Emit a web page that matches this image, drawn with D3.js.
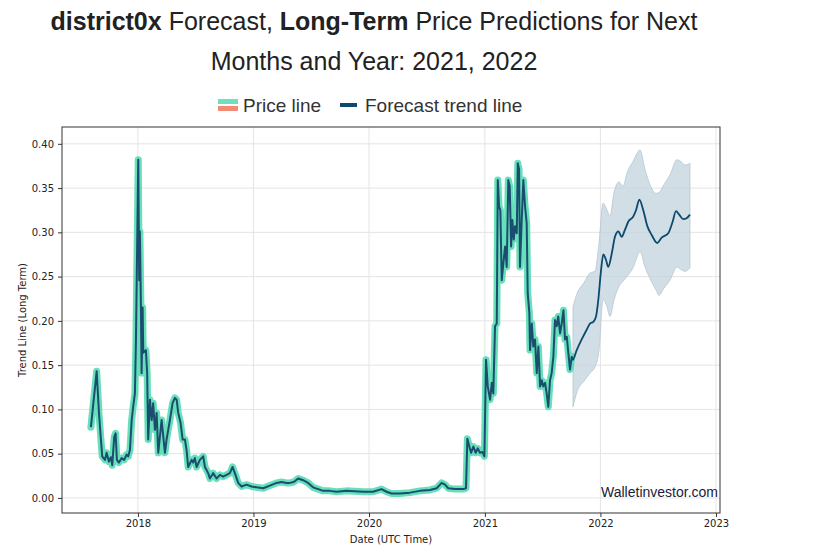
<!DOCTYPE html>
<html>
<head>
<meta charset="utf-8">
<script src="https://cdn.jsdelivr.net/npm/d3@7"></script>
<style>
  html, body { margin: 0; padding: 0; background: #fff; }
  svg { display: block; }
</style>
</head>
<body>
<svg id="chart" width="833" height="556"></svg>
<script>
// ---- Data (dates as fractional years) ----
const priceDates = [2017.593,2017.643,2017.663,2017.680,2017.691,2017.715,2017.729,2017.749,2017.766,2017.778,2017.795,2017.807,2017.818,2017.836,2017.859,2017.881,2017.902,2017.916,2017.931,2017.946,2017.959,2017.974,2017.983,2018.003,2018.011,2018.017,2018.026,2018.032,2018.041,2018.046,2018.069,2018.080,2018.089,2018.104,2018.119,2018.132,2018.147,2018.162,2018.176,2018.205,2018.234,2018.248,2018.277,2018.300,2018.320,2018.335,2018.349,2018.369,2018.387,2018.407,2018.421,2018.435,2018.465,2018.478,2018.493,2018.508,2018.536,2018.565,2018.580,2018.608,2018.623,2018.651,2018.681,2018.709,2018.738,2018.767,2018.796,2018.819,2018.839,2018.868,2018.897,2018.940,2018.984,2019.027,2019.084,2019.142,2019.200,2019.243,2019.286,2019.315,2019.349,2019.387,2019.430,2019.473,2019.516,2019.560,2019.603,2019.661,2019.719,2019.805,2019.949,2020.035,2020.108,2020.151,2020.195,2020.266,2020.353,2020.439,2020.526,2020.584,2020.627,2020.656,2020.684,2020.742,2020.814,2020.837,2020.849,2020.866,2020.881,2020.901,2020.921,2020.939,2020.958,2020.978,2020.996,2021.010,2021.025,2021.045,2021.060,2021.073,2021.088,2021.103,2021.112,2021.123,2021.134,2021.146,2021.160,2021.175,2021.189,2021.203,2021.215,2021.227,2021.238,2021.250,2021.261,2021.276,2021.285,2021.296,2021.304,2021.319,2021.333,2021.348,2021.362,2021.371,2021.385,2021.391,2021.406,2021.419,2021.434,2021.449,2021.463,2021.478,2021.492,2021.506,2021.521,2021.535,2021.549,2021.564,2021.578,2021.593,2021.607,2021.622,2021.635,2021.651,2021.665,2021.680,2021.694,2021.709,2021.723,2021.737,2021.752];
const priceValues = [0.080,0.143,0.096,0.066,0.047,0.043,0.051,0.041,0.046,0.037,0.069,0.073,0.043,0.040,0.045,0.043,0.049,0.047,0.054,0.088,0.103,0.118,0.178,0.382,0.246,0.301,0.216,0.141,0.215,0.164,0.167,0.141,0.066,0.111,0.088,0.107,0.077,0.096,0.051,0.088,0.051,0.066,0.088,0.107,0.113,0.111,0.096,0.085,0.066,0.066,0.054,0.035,0.043,0.040,0.045,0.035,0.043,0.047,0.035,0.028,0.022,0.028,0.022,0.026,0.024,0.026,0.028,0.035,0.028,0.017,0.013,0.015,0.013,0.012,0.011,0.014,0.017,0.018,0.017,0.017,0.018,0.022,0.020,0.017,0.012,0.010,0.008,0.008,0.007,0.008,0.007,0.007,0.010,0.007,0.005,0.005,0.006,0.008,0.009,0.011,0.017,0.015,0.011,0.010,0.010,0.011,0.067,0.058,0.051,0.058,0.051,0.056,0.051,0.052,0.047,0.156,0.126,0.111,0.130,0.118,0.194,0.197,0.359,0.329,0.325,0.246,0.265,0.284,0.261,0.359,0.352,0.284,0.314,0.292,0.307,0.299,0.378,0.371,0.261,0.314,0.359,0.329,0.310,0.231,0.209,0.167,0.197,0.171,0.179,0.141,0.171,0.126,0.133,0.126,0.130,0.118,0.103,0.133,0.141,0.160,0.201,0.194,0.205,0.186,0.197,0.212,0.179,0.182,0.163,0.145,0.160];

const forecastDates = [2021.752,2021.760,2021.795,2021.838,2021.881,2021.910,2021.939,2021.962,2021.982,2022.003,2022.025,2022.048,2022.068,2022.098,2022.126,2022.155,2022.184,2022.213,2022.241,2022.285,2022.308,2022.337,2022.371,2022.406,2022.444,2022.492,2022.530,2022.587,2022.625,2022.654,2022.682,2022.717,2022.746,2022.775];
const forecastValues = [0.160,0.156,0.167,0.179,0.190,0.197,0.199,0.205,0.224,0.254,0.275,0.269,0.261,0.276,0.295,0.301,0.295,0.303,0.312,0.318,0.325,0.337,0.325,0.307,0.297,0.288,0.294,0.299,0.312,0.324,0.320,0.315,0.316,0.320];

const bandDates = [2021.763,2021.798,2021.858,2021.910,2021.953,2021.988,2022.023,2022.057,2022.083,2022.118,2022.161,2022.196,2022.230,2022.282,2022.343,2022.386,2022.429,2022.481,2022.507,2022.550,2022.602,2022.663,2022.697,2022.732,2022.775];
const bandUpper = [0.216,0.231,0.243,0.254,0.256,0.288,0.333,0.325,0.318,0.345,0.357,0.352,0.367,0.380,0.393,0.371,0.354,0.344,0.345,0.354,0.365,0.382,0.380,0.376,0.378];
const bandLower = [0.103,0.120,0.132,0.141,0.148,0.167,0.224,0.216,0.205,0.224,0.239,0.245,0.250,0.260,0.278,0.261,0.248,0.235,0.229,0.237,0.246,0.261,0.258,0.256,0.260];

const yTicks = [0.00,0.05,0.10,0.15,0.20,0.25,0.30,0.35,0.40];
const xTickYears = [2018,2019,2020,2021,2022,2023];

// ---- helpers ----
function toDate(fy) {
  const y = Math.floor(fy);
  const start = Date.UTC(y, 0, 1), end = Date.UTC(y + 1, 0, 1);
  return new Date(start + (fy - y) * (end - start));
}

const svg = d3.select("#chart");
const plot = { left: 62, right: 720, top: 127, bottom: 513 };

const x = d3.scaleUtc()
  .domain([toDate(2017.343), toDate(2023.035)])
  .range([plot.left, plot.right]);
const y = d3.scaleLinear()
  .domain([-0.017, 0.419])
  .range([plot.bottom, plot.top]);

// Title
const title = svg.append("text")
  .attr("x", 374).attr("y", 30)
  .attr("text-anchor", "middle")
  .style("font-family", "Liberation Sans, Arial, sans-serif")
  .style("font-size", "25px").style("fill", "#222");
title.append("tspan").style("font-weight", "bold").text("district0x");
title.append("tspan").text(" Forecast, ");
title.append("tspan").style("font-weight", "bold").text("Long-Term");
title.append("tspan").text(" Price Predictions for Next");
svg.append("text")
  .attr("x", 374).attr("y", 70)
  .attr("text-anchor", "middle")
  .style("font-family", "Liberation Sans, Arial, sans-serif")
  .style("font-size", "25px").style("fill", "#222")
  .text("Months and Year: 2021, 2022");

// Legend
const lg = svg.append("g").style("font-family", "Liberation Sans, Arial, sans-serif").style("font-size", "19px").style("fill", "#333");
lg.append("rect").attr("x", 218).attr("y", 99).attr("width", 20).attr("height", 5).attr("fill", "#6fdfbe");
lg.append("rect").attr("x", 218).attr("y", 106).attr("width", 20).attr("height", 5).attr("fill", "#f28b74");
lg.append("text").attr("x", 243).attr("y", 112).text("Price line");
lg.append("rect").attr("x", 340).attr("y", 103).attr("width", 17).attr("height", 4).attr("fill", "#0b4a6e");
lg.append("text").attr("x", 365).attr("y", 112).text("Forecast trend line");

// Grid
const grid = svg.append("g");
grid.selectAll(".gy").data(yTicks).join("line")
  .attr("x1", plot.left).attr("x2", plot.right)
  .attr("y1", d => y(d)).attr("y2", d => y(d))
  .attr("stroke", "#e4e4e4").attr("stroke-width", 1);
grid.selectAll(".gx").data(xTickYears).join("line")
  .attr("x1", d => x(toDate(d))).attr("x2", d => x(toDate(d)))
  .attr("y1", plot.top).attr("y2", plot.bottom)
  .attr("stroke", "#e4e4e4").attr("stroke-width", 1);

// Forecast band
const band = bandDates.map((d, i) => ({ d: toDate(d), lo: bandLower[i], hi: bandUpper[i] }));
svg.append("path").datum(band)
  .attr("d", d3.area().x(p => x(p.d)).y0(p => y(p.lo)).y1(p => y(p.hi)).curve(d3.curveMonotoneX))
  .attr("fill", "#c3d3dd").attr("fill-opacity", 0.75)
  .attr("stroke", "#b4c6d2").attr("stroke-width", 0.8);

// Price line
const price = priceDates.map((d, i) => ({ d: toDate(d), v: priceValues[i] }));
const lineGen = d3.line().x(p => x(p.d)).y(p => y(p.v));
svg.append("path").datum(price).attr("d", lineGen)
  .attr("fill", "none").attr("stroke", "#55dcb3").attr("stroke-width", 7)
  .attr("stroke-linejoin", "round").attr("stroke-linecap", "round").attr("stroke-opacity", 0.9);
svg.append("path").datum(price).attr("d", lineGen)
  .attr("fill", "none").attr("stroke", "#1b4d6f").attr("stroke-width", 2)
  .attr("stroke-linejoin", "round");

// Forecast line
const fc = forecastDates.map((d, i) => ({ d: toDate(d), v: forecastValues[i] }));
svg.append("path").datum(fc)
  .attr("d", d3.line().x(p => x(p.d)).y(p => y(p.v)).curve(d3.curveMonotoneX))
  .attr("fill", "none").attr("stroke", "#0b4a6e").attr("stroke-width", 1.8);

// Frame
svg.append("rect").attr("x", plot.left).attr("y", plot.top)
  .attr("width", plot.right - plot.left).attr("height", plot.bottom - plot.top)
  .attr("fill", "none").attr("stroke", "#333").attr("stroke-width", 1);

// Axes
const yAxis = d3.axisLeft(y).tickValues(yTicks).tickFormat(d3.format(".2f")).tickSize(4).tickPadding(4);
const gy = svg.append("g").attr("transform", `translate(${plot.left},0)`).call(yAxis);
const xAxis = d3.axisBottom(x).tickValues(xTickYears.map(toDate)).tickFormat(d3.utcFormat("%Y")).tickSize(4).tickPadding(3);
const gx = svg.append("g").attr("transform", `translate(0,${plot.bottom})`).call(xAxis);
[gx, gy].forEach(g => {
  g.select(".domain").remove();
  g.selectAll("line").attr("stroke", "#333");
  g.selectAll("text").style("font-family", "DejaVu Sans, sans-serif").style("font-size", "10px").style("fill", "#222");
});

// Axis labels
svg.append("text")
  .attr("transform", `translate(26,${(plot.top + plot.bottom) / 2}) rotate(-90)`)
  .attr("text-anchor", "middle")
  .style("font-family", "DejaVu Sans, sans-serif").style("font-size", "10px").style("fill", "#222")
  .text("Trend Line (Long Term)");
svg.append("text")
  .attr("x", (plot.left + plot.right) / 2).attr("y", 543)
  .attr("text-anchor", "middle")
  .style("font-family", "DejaVu Sans, sans-serif").style("font-size", "10px").style("fill", "#222")
  .text("Date (UTC Time)");

// Watermark
svg.append("text")
  .attr("x", 718).attr("y", 497)
  .attr("text-anchor", "end")
  .style("font-family", "Liberation Sans, Arial, sans-serif").style("font-size", "14px").style("fill", "#1a1a3a")
  .text("Walletinvestor.com");
</script>
</body>
</html>
